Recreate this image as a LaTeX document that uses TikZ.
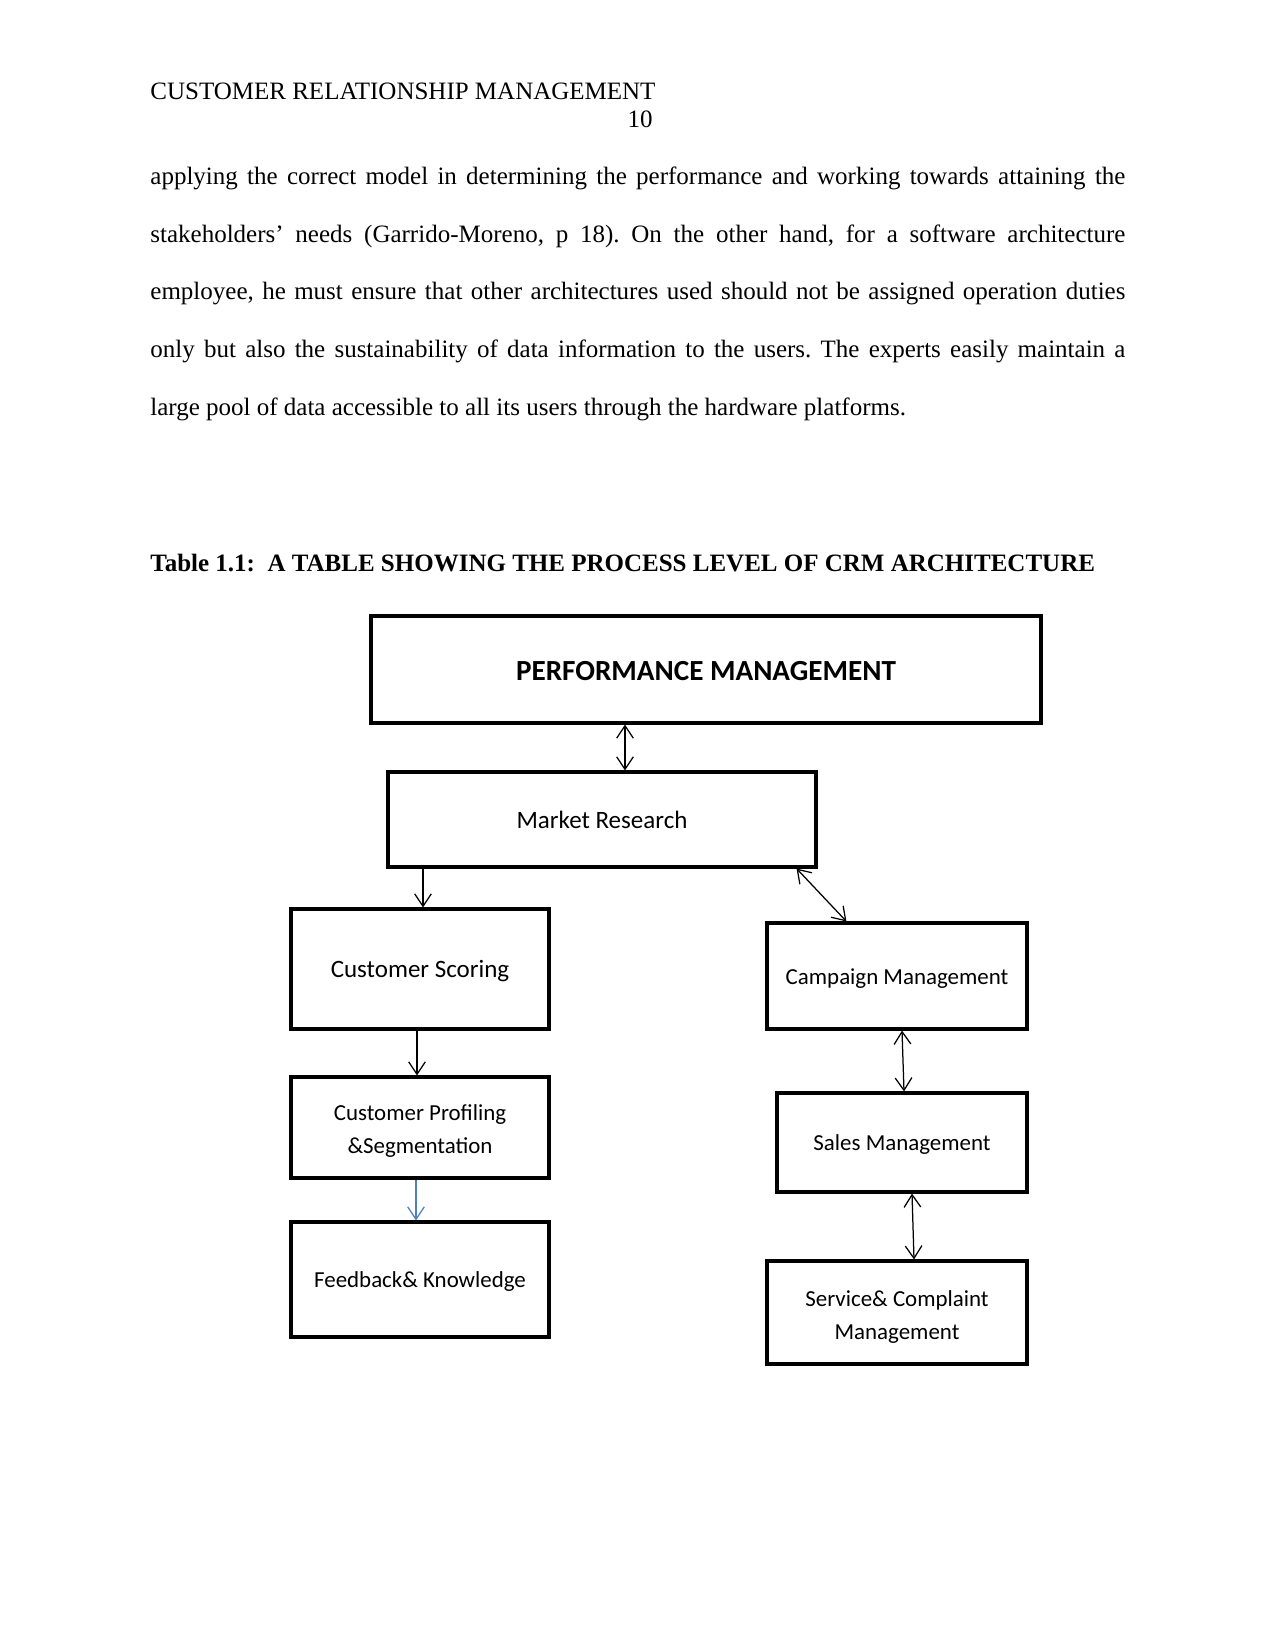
\documentclass[tikz,border=0pt]{standalone}
\usepackage{fontspec}
\setmainfont{Liberation Serif}
\newfontfamily\calfont{Carlito}
\usetikzlibrary{arrows.meta,calc}
\definecolor{arrowblue}{RGB}{79,129,189}
\def\pxu{0.48pt}
\newcommand{\lowtext}[2]{\raisebox{-#1}[\height][\depth]{#2}}
\newcommand{\twolines}[3]{\raisebox{-#1}[\height][\depth]{\begin{tabular}{@{}c@{}}#2\\#3\end{tabular}}}
\begin{document}
\frenchspacing
\begin{tikzpicture}[x=0.48pt,y=-0.48pt,
  box/.style={draw,line width=1.5pt,inner sep=0pt,align=center,
    font=\calfont\fontsize{11}{15.8}\selectfont},
  bigtext/.style={font=\calfont\fontsize{12}{15}\selectfont},
  tip/.tip={Straight Barb[length=6pt,width=8pt]},
  both/.style={line width=0.6pt,tip-tip},
  oneway/.style={line width=0.6pt,-tip},
  bodyline/.style={anchor=base west,inner sep=0pt,font=\fontsize{12}{14}\selectfont}]
\useasboundingbox (0,0) rectangle (1275,1650);

% header
\node[bodyline] (hdr) at (150,100) {CUSTOMER RELATIONSHIP MANAGEMENT};
\node[bodyline,anchor=base east] (pg) at (653,128) {10};

% paragraph
\node[bodyline] (l1) at (150,185) {\makebox[468pt][s]{applying the correct model in determining the performance and working towards attaining the}};
\node[bodyline] (l2) at (150,243) {\makebox[468pt][s]{stakeholders’ needs (Garrido-Moreno, p 18). On the other hand, for a software architecture}};
\node[bodyline] (l3) at (150,300) {\makebox[468pt][s]{employee, he must ensure that other architectures used should not be assigned operation duties}};
\node[bodyline] (l4) at (150,358) {\makebox[468pt][s]{only but also the sustainability of data information to the users. The experts easily maintain a}};
\node[bodyline] (l5) at (150,415) {large pool of data accessible to all its users through the hardware platforms.};

% caption
\node[bodyline] (cap) at (150,571) {\bfseries Table 1.1:\ \ A TABLE SHOWING THE PROCESS LEVEL OF CRM ARCHITECTURE};

% boxes
\node[box,minimum width={670*\pxu},minimum height={107*\pxu},
  font=\calfont\bfseries\fontsize{14}{17}\selectfont] (PM) at (706,669.5) {\lowtext{0.5pt}{PERFORMANCE MANAGEMENT}};
\node[box,bigtext,minimum width={428*\pxu},minimum height={95*\pxu}] (MR) at (602,819.5) {Market Research};
\node[box,bigtext,minimum width={258*\pxu},minimum height={120*\pxu}] (CS) at (420,969) {\lowtext{1pt}{Customer Scoring}};
\node[box,minimum width={258*\pxu},minimum height={101*\pxu}] (CP) at (420,1127.5) {\twolines{1.2pt}{Customer Profiling}{\&Segmentation}};
\node[box,minimum width={258*\pxu},minimum height={115*\pxu}] (FK) at (420,1279.5) {\lowtext{1pt}{Feedback\& Knowledge}};
\node[box,minimum width={260*\pxu},minimum height={106*\pxu}] (Camp) at (897,976) {\lowtext{1.4pt}{Campaign Management}};
\node[box,minimum width={250*\pxu},minimum height={99*\pxu}] (Sales) at (902,1142.5) {\lowtext{1pt}{Sales Management}};
\node[box,minimum width={260*\pxu},minimum height={103*\pxu}] (Serv) at (897,1312.5) {\twolines{1.8pt}{Service\& Complaint}{Management}};

% connectors
\draw[both] ($(PM.south)+(-81,0)$) -- ($(MR.north)+(23,0)$);
\draw[oneway] ($(MR.south)+(-179,0)$) -- ($(CS.north)+(3,0)$);
\draw[oneway] ($(CS.south)+(-3,0)$) -- ($(CP.north)+(-3,0)$);
\draw[oneway,draw=arrowblue] ($(CP.south)+(-4,0)$) -- ($(FK.north)+(-4,0)$);
\draw[both] ($(MR.south east)+(-21,0)$) -- ($(Camp.north west)+(81,0)$);
\draw[both] ($(Camp.south)+(5,0)$) -- ($(Sales.north)+(2,0)$);
\draw[both] ($(Sales.south)+(10,0)$) -- ($(Serv.north)+(17,0)$);
\end{tikzpicture}
\end{document}
